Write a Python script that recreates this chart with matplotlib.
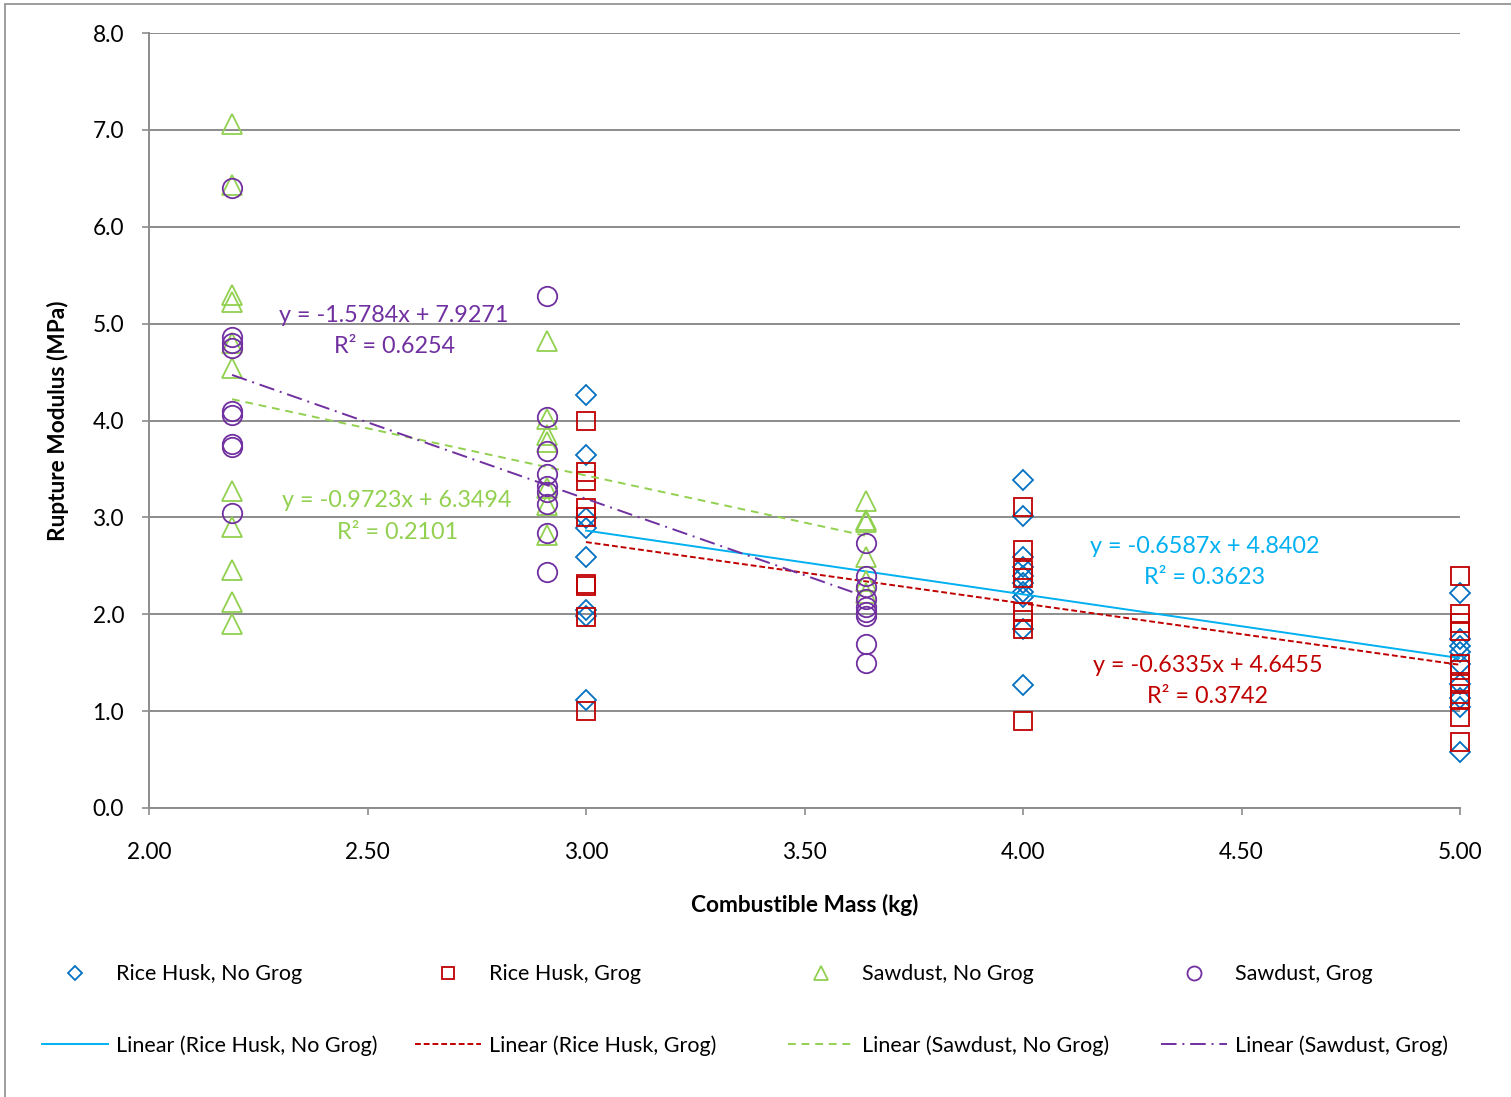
#------------------------- Rupture modulus vs combustible mass ---------------------------------
import matplotlib
matplotlib.use('Agg')
import matplotlib.pyplot as plt
from matplotlib.patches import Rectangle
import numpy as np

plt.rcParams['font.family'] = ['Lato', 'DejaVu Sans']

#------------------------- 1. data ------------------------------------------------------------
# Rice Husk, No Grog
rh_ng_x = [3.00]*8 + [4.00]*10 + [5.00]*9
rh_ng_y = [4.26, 3.64, 2.99, 2.89, 2.59, 2.04, 1.98, 1.12,
           3.39, 3.01, 2.59, 2.49, 2.40, 2.32, 2.23, 2.18, 1.85, 1.27,
           2.22, 1.74, 1.67, 1.61, 1.49, 1.28, 1.14, 1.04, 0.58]
# Rice Husk, Grog
rh_g_x = [3.00]*9 + [4.00]*8 + [5.00]*11
rh_g_y = [3.99, 3.47, 3.38, 3.10, 3.00, 2.31, 2.29, 1.97, 1.00,
          3.11, 2.66, 2.46, 2.37, 2.02, 1.94, 1.85, 0.90,
          2.40, 2.00, 1.91, 1.83, 1.49, 1.42, 1.28, 1.18, 1.11, 0.94, 0.68]
# Sawdust, No Grog
sd_ng_x = [2.19]*11 + [2.91]*7 + [3.64]*6
sd_ng_y = [7.06, 6.43, 5.30, 5.22, 4.80, 4.54, 3.27, 2.90, 2.46, 2.13, 1.90,
           4.82, 4.02, 3.85, 3.78, 3.30, 3.13, 2.82,
           3.17, 2.97, 2.95, 2.59, 2.34, 2.22]
# Sawdust, Grog
sd_g_x = [2.19]*9 + [2.91]*9 + [3.64]*9
sd_g_y = [6.40, 4.86, 4.80, 4.75, 4.10, 4.06, 3.76, 3.73, 3.05,
          5.29, 4.04, 3.69, 3.45, 3.32, 3.26, 3.14, 2.84, 2.44,
          2.74, 2.40, 2.28, 2.16, 2.07, 2.02, 1.98, 1.69, 1.50]

# trend line equations shown on the chart (slope, intercept, R^2)
trend_slope = [-0.6587, -0.6335, -0.9723, -1.5784]
trend_icept = [4.8402, 4.6455, 6.3494, 7.9271]
trend_r2 = [0.3623, 0.3742, 0.2101, 0.6254]

names = ['Rice Husk, No Grog', 'Rice Husk, Grog', 'Sawdust, No Grog', 'Sawdust, Grog']

#------------------------- 2. styles ----------------------------------------------------------
mark_col = ['#0070C0', '#C00000', '#92D050', '#7030A0']
line_col = ['#00B0F0', '#C00000', '#92D050', '#7030A0']
markers = ['D', 's', '^', 'o']
msizes = [10, 12.5, 14, 14]
dashes = [(None, None), (3, 1.5), (4, 3), (8, 3, 1, 3)]
# where the equation text sits (data coords)
eq_pos = [(4.416, 2.54), (4.423, 1.31), (2.568, 3.01), (2.561, 4.92)]

xs = [rh_ng_x, rh_g_x, sd_ng_x, sd_g_x]
ys = [rh_ng_y, rh_g_y, sd_ng_y, sd_g_y]

#------------------------- 3. plot ------------------------------------------------------------
fig = plt.figure(figsize=(15.11, 10.97), dpi=100)
ax = fig.add_axes([149/1511, 1 - 808/1097, (1460-149)/1511, (808-33)/1097])

grid_col = '#8C8C8C'
ax.set_xlim(2.0, 5.0)
ax.set_ylim(0.0, 8.0)
ax.set_yticks(np.arange(0, 8.01, 1.0))
ax.set_xticks(np.arange(2.0, 5.01, 0.5))
ax.yaxis.set_major_formatter(plt.FormatStrFormatter('%.1f'))
ax.xaxis.set_major_formatter(plt.FormatStrFormatter('%.2f'))
ax.grid(axis='y', color=grid_col, linewidth=1.4)
ax.set_axisbelow(True)
for s in ['top', 'right']:
    ax.spines[s].set_visible(False)
for s in ['left', 'bottom']:
    ax.spines[s].set_color(grid_col)
    ax.spines[s].set_linewidth(1.4)
ax.tick_params(axis='y', direction='out', length=5, width=1.2, color=grid_col, labelsize=16.3, pad=13)
ax.tick_params(axis='x', direction='out', length=5, width=1.2, color=grid_col, labelsize=16.3, pad=19.5)

ax.set_xlabel('Combustible Mass (kg)', fontsize=16.3, fontweight='bold', labelpad=22)
ax.set_ylabel('Rupture Modulus (MPa)', fontsize=16.3, fontweight='bold', labelpad=17)

mark_handles = []
line_handles = []
for i in range(4):
    h, = ax.plot(xs[i], ys[i], linestyle='none', marker=markers[i], markersize=msizes[i],
                 markerfacecolor='none', markeredgecolor=mark_col[i], markeredgewidth=1.3,
                 label=names[i], clip_on=False)
    mark_handles.append(h)
    # trend line over the range of the series
    tx = np.array([min(xs[i]), max(xs[i])])
    ty = trend_slope[i]*tx + trend_icept[i]
    l, = ax.plot(tx, ty, color=line_col[i], linewidth=1.4, label='Linear (' + names[i] + ')')
    if dashes[i][0] is not None:
        l.set_dashes(dashes[i])
    line_handles.append(l)
    eq = 'y = %.4fx + %.4f\nR² = %.4f' % (trend_slope[i], trend_icept[i], trend_r2[i])
    ax.text(eq_pos[i][0], eq_pos[i][1], eq, color=line_col[i], fontsize=16.8,
            ha='center', va='center', multialignment='center', linespacing=1.6)

# legend: four small legends so the columns sit evenly
col_left = [42, 415, 788, 1161]
for i in range(4):
    leg = fig.legend(handles=[mark_handles[i], line_handles[i]], loc='center left',
                     bbox_to_anchor=(col_left[i]/1511, 1 - 1010/1097), frameon=False,
                     fontsize=15.5, handlelength=3.06, handletextpad=0.4, borderpad=0,
                     borderaxespad=0, labelspacing=2.35, markerscale=0.72)

# outer chart border (only left and top edges show)
fig.patches.append(Rectangle((5/1511, -0.05), 1.1, 1.05 - 4/1097,
                             transform=fig.transFigure, fill=False,
                             edgecolor='#8C8C8C', linewidth=1.2))

fig.savefig('out.png', dpi=100)
